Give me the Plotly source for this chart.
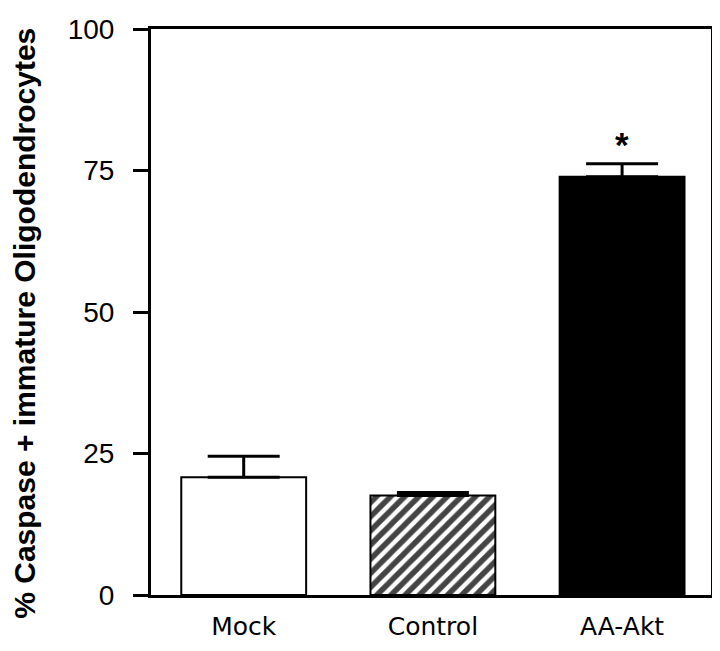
import plotly.graph_objects as go

categories = ["Mock", "Control", "AA-Akt"]
values = [20.8, 17.6, 73.9]
errors = [3.7, 0.5, 2.3]
y_ticks = [0, 25, 50, 75, 100]

fig = go.Figure()

fig.add_trace(go.Bar(
    x=categories,
    y=values,
    width=0.66,
    marker=dict(
        color=["white", "white", "black"],
        line=dict(color="black", width=2),
        pattern=dict(shape=["", "/", ""], fgcolor="black", bgcolor="white",
                     fgopacity=1, size=10, solidity=0.55),
    ),
    error_y=dict(type="data", array=errors, arrayminus=[0, 0, 0], symmetric=False,
                 color="black", thickness=3, width=36),
))

# significance star
fig.add_annotation(x="AA-Akt", y=values[2] + errors[2], text="<b>*</b>",
                   showarrow=False, yshift=19, font=dict(size=35, color="black"))

# y title as annotation so it can sit where the original has it
fig.add_annotation(text="<b>% Caspase + immature Oligodendrocytes</b>",
                   xref="paper", yref="paper", x=-0.226, y=0.48,
                   xanchor="center", yanchor="middle", textangle=-90,
                   showarrow=False, font=dict(size=30, color="black"))

# page body has an 8px margin, so the figure is a bit smaller than the window
fig.update_layout(
    width=712, height=643,
    margin=dict(l=143, r=6, t=20, b=56),
    plot_bgcolor="white", paper_bgcolor="white",
    showlegend=False,
    font=dict(family="Liberation Sans, Arial, sans-serif", color="black"),
)
fig.update_xaxes(
    range=[-0.49, 2.47],
    showline=True, linecolor="black", linewidth=3, mirror=True,
    ticks="", tickfont=dict(size=25, family="DejaVu Sans"), ticklabelstandoff=7,
    showgrid=False,
)
fig.update_yaxes(
    range=[0, 100], tickvals=y_ticks,
    showline=True, linecolor="black", linewidth=3, mirror=True,
    ticks="outside", ticklen=15, tickwidth=3, tickcolor="black",
    tickfont=dict(size=28), ticklabelstandoff=13,
    showgrid=False, zeroline=False,
)

fig.write_html("out.html")
